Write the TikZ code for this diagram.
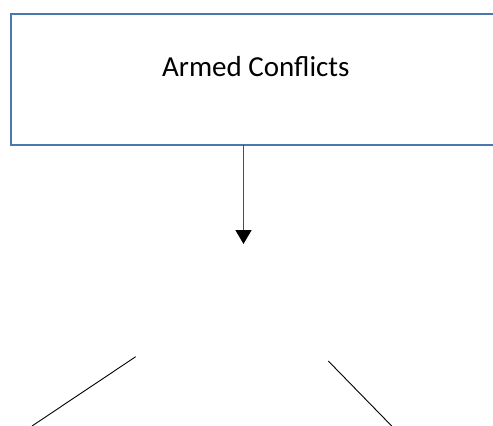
\documentclass[tikz,border=0pt]{standalone}
\usepackage{fontspec}
\setmainfont{Carlito}
\usetikzlibrary{arrows.meta}
\definecolor{boxblue}{HTML}{4A78AC}
\definecolor{arrowgray}{HTML}{4D4D4D}
\tikzset{
  mainbox/.style={draw=boxblue, line width=2pt, fill=white, rectangle, inner sep=0pt},
  titletext/.style={font=\fontsize{29}{34}\selectfont, inner sep=0pt, anchor=base},
  flowarrow/.style={draw=arrowgray, line width=1.6pt, -{Triangle[width=16pt,length=14pt,fill=black,color=black]}},
  branch/.style={draw=black, line width=0.9pt}
}
\begin{document}
\begin{tikzpicture}[x=1pt,y=-1pt]
\useasboundingbox (0,0) rectangle (493,426);
\clip (0,0) rectangle (493,426);
\node[mainbox, minimum width=501pt, minimum height=131pt, anchor=north west] (ac) at (9.5,12.5) {};
\node[titletext] (actext) at (255.8,76.7) {Armed Conflicts};
\coordinate (arrowstart) at (243.5,144.5);
\coordinate (arrowend) at (243.5,244);
\draw[flowarrow] (arrowstart) -- (arrowend);
\coordinate (l1) at (32,426);
\coordinate (l2) at (135.7,356.7);
\coordinate (r1) at (328.3,361);
\coordinate (r2) at (391.7,426);
\draw[branch] (l1) -- (l2);
\draw[branch] (r1) -- (r2);
\end{tikzpicture}
\end{document}
